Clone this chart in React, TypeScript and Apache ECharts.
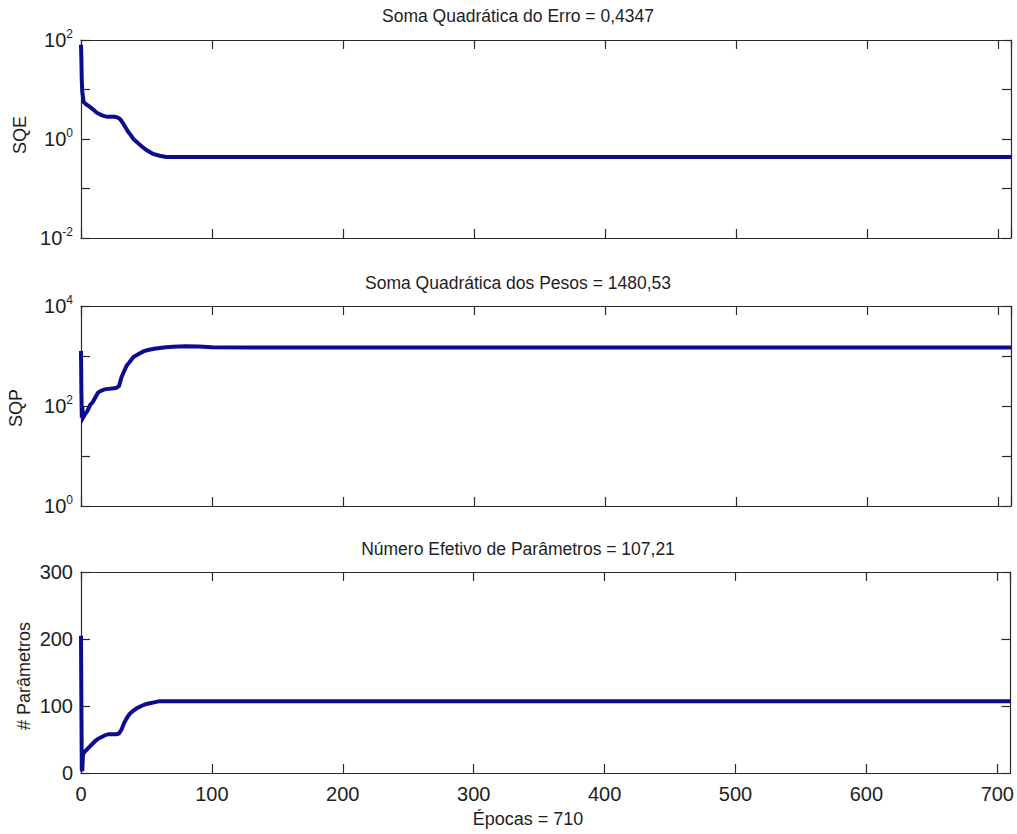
import React, { useEffect, useRef } from "react";
import * as echarts from "echarts";

// Training history: error, weights and effective parameters per epoch
const sqeEpochs = [0, 0.3, 0.6, 1, 2, 4, 6, 8, 10, 12, 14, 16, 18, 20, 22, 24, 26, 28, 30, 32, 34, 36, 38, 40, 43, 46, 50, 55, 60, 65, 710];
const sqeValues = [80, 40, 15, 9, 5.6, 5.0, 4.6, 4.2, 3.8, 3.4, 3.2, 3.0, 2.9, 2.8, 2.8, 2.8, 2.8, 2.7, 2.5, 2.1, 1.7, 1.4, 1.2, 1.0, 0.85, 0.72, 0.6, 0.5, 0.46, 0.4347, 0.4347];

const sqpEpochs = [0, 0.3, 0.6, 1, 1.5, 3, 5, 7, 9, 11, 13, 15, 18, 21, 24, 27, 29, 31, 33, 35, 37, 40, 44, 48, 52, 56, 60, 65, 70, 80, 90, 100, 130, 710];
const sqpValues = [1260, 200, 58, 95, 58, 68, 80, 105, 120, 150, 185, 200, 215, 220, 225, 230, 250, 380, 500, 650, 750, 950, 1100, 1250, 1330, 1400, 1450, 1500, 1530, 1560, 1540, 1500, 1480.53, 1480.53];

const gammaEpochs = [0, 0.3, 0.6, 1, 1.5, 3, 5, 7, 9, 11, 13, 15, 18, 21, 24, 27, 29, 31, 33, 35, 37, 40, 43, 46, 50, 55, 60, 710];
const gammaValues = [205, 100, 5, 3, 28, 32, 36, 40, 44, 48, 51, 53, 56, 58, 58, 58, 59, 65, 75, 82, 88, 93, 97, 100, 103, 105, 107.21, 107.21];

const epochLabels = [0, 100, 200, 300, 400, 500, 600, 700];
const sqeLabelExps = [-2, 0, 2];
const sqpLabelExps = [0, 2, 4];

const titles = [
  "Soma Quadrática do Erro = 0,4347",
  "Soma Quadrática dos Pesos = 1480,53",
  "Número Efetivo de Parâmetros = 107,21",
];
const yNames = ["SQE", "SQP", "# Parâmetros"];
const xName = "Épocas = 710";

const FONT = "'Liberation Sans', Arial, Helvetica, sans-serif";
const INK = "#1e1e1e";
const LINE = "#0c0c8e";

const grids = [
  { left: 81, top: 40, width: 930, height: 198 },
  { left: 81, top: 306, width: 930, height: 200 },
  { left: 81, top: 572, width: 930, height: 201 },
];

const pairs = (xs: number[], ys: number[]) => xs.map((x, i) => [x, ys[i]]);

const powerLabel = (shown: number[]) => (v: number) => {
  const e = Math.round(Math.log10(v));
  return shown.includes(e) ? `{b|10}{s|${e}}` : "";
};

const powerRich = {
  b: { fontSize: 20, fontFamily: FONT, color: INK, lineHeight: 24 },
  s: { fontSize: 12, fontFamily: FONT, color: INK, verticalAlign: "top", lineHeight: 12 },
};

export default function App() {
  const ref = useRef<HTMLDivElement>(null);

  useEffect(() => {
    const chart = echarts.init(ref.current!, null, { renderer: "svg" });

    const axisLine = { show: true, onZero: false, lineStyle: { color: "#2a2a2a", width: 1.2 } };
    const tick = {
      show: true,
      inside: true,
      length: 9,
      lineStyle: { color: "#2a2a2a", width: 1.2 },
    };

    const xAxes: any[] = [];
    const yAxes: any[] = [];
    grids.forEach((_, gi) => {
      const last = gi === 2;
      xAxes.push({
        type: "value",
        gridIndex: gi,
        position: "bottom",
        min: 0,
        max: 710,
        interval: 100,
        axisLine,
        axisTick: tick,
        splitLine: { show: false },
        axisLabel: {
          show: last,
          margin: 11,
          fontSize: 20,
          fontFamily: FONT,
          color: INK,
          showMaxLabel: false,
          formatter: (v: number) => (epochLabels.includes(v) ? String(v) : ""),
        },
      });
      xAxes.push({
        type: "value",
        gridIndex: gi,
        position: "top",
        min: 0,
        max: 710,
        interval: 100,
        axisLine,
        axisTick: tick,
        splitLine: { show: false },
        axisLabel: { show: false },
      });
    });

    const yConf: any[] = [
      { type: "log", min: 0.01, max: 100, label: powerLabel(sqeLabelExps) },
      { type: "log", min: 1, max: 10000, label: powerLabel(sqpLabelExps) },
      { type: "value", min: 0, max: 300, interval: 100 },
    ];
    yConf.forEach((c, gi) => {
      const base: any = { type: c.type, gridIndex: gi, min: c.min, max: c.max, splitLine: { show: false }, axisLine, axisTick: tick };
      if (c.type === "log") {
        base.logBase = 10;
        base.splitNumber = 4;
      } else {
        base.interval = c.interval;
      }
      yAxes.push({
        ...base,
        position: "left",
        axisLabel:
          c.type === "log"
            ? { margin: 8, formatter: c.label, rich: powerRich, showMinLabel: true, showMaxLabel: true }
            : { margin: 8, fontSize: 20, fontFamily: FONT, color: INK },
      });
      yAxes.push({
        ...base,
        position: "right",
        axisLabel: { show: false },
      });
    });

    const seriesData = [
      pairs(sqeEpochs, sqeValues),
      pairs(sqpEpochs, sqpValues),
      pairs(gammaEpochs, gammaValues),
    ];

    const titleYs = [16, 283, 549];
    const nameCenters = [
      { x: 20, y: 135 },
      { x: 16, y: 408 },
      { x: 24, y: 676 },
    ];

    const graphic: any[] = [];
    titles.forEach((t, i) => {
      graphic.push({
        type: "text",
        x: 518,
        y: titleYs[i],
        style: { text: t, fontSize: 17.5, fontFamily: FONT, fill: INK, align: "center", verticalAlign: "middle" },
      });
    });
    yNames.forEach((t, i) => {
      graphic.push({
        type: "text",
        x: nameCenters[i].x,
        y: nameCenters[i].y,
        rotation: Math.PI / 2,
        style: { text: t, fontSize: 18, fontFamily: FONT, fill: INK, align: "center", verticalAlign: "middle" },
      });
    });
    graphic.push({
      type: "text",
      x: 528,
      y: 819,
      style: { text: xName, fontSize: 18, fontFamily: FONT, fill: INK, align: "center", verticalAlign: "middle" },
    });

    chart.setOption({
      animation: false,
      backgroundColor: "#ffffff",
      grid: grids,
      xAxis: xAxes,
      yAxis: yAxes,
      graphic,
      series: seriesData.map((d, i) => ({
        type: "line",
        xAxisIndex: i * 2,
        yAxisIndex: i * 2,
        data: d,
        showSymbol: false,
        lineStyle: { color: LINE, width: 4, join: "miter" },
        itemStyle: { color: LINE },
      })),
    });

    return () => chart.dispose();
  }, []);

  return (
    <div
      ref={ref}
      style={{ position: "fixed", left: 0, top: 0, width: 1017, height: 834, background: "#fff" }}
    />
  );
}
